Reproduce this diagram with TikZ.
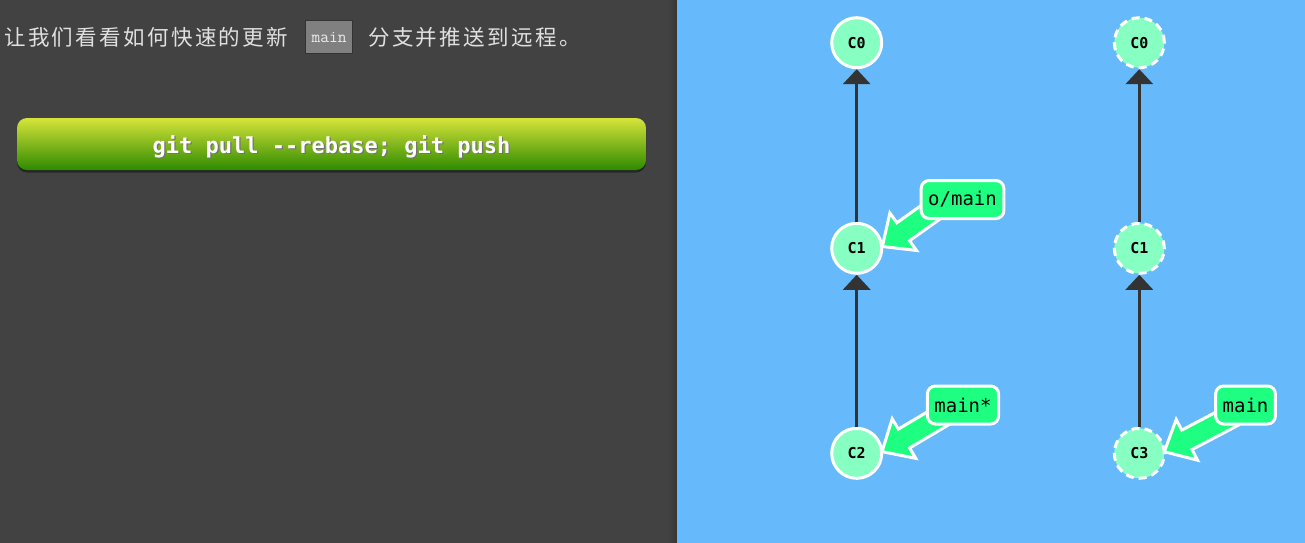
\documentclass[tikz,border=0pt]{standalone}
\usepackage{fontspec}
\setmonofont{DejaVu Sans Mono}
\newfontfamily\cjk[LetterSpace=11]{Noto Sans CJK SC}
\newfontfamily\codefont{Latin Modern Mono}
\usetikzlibrary{positioning,arrows.meta,calc,shapes.arrows,shadows}
\definecolor{PanelGray}{RGB}{66,66,66}
\definecolor{PanelEdge}{RGB}{52,52,52}
\definecolor{SkyBlue}{RGB}{102,185,250}
\definecolor{CommitMint}{RGB}{136,255,194}
\definecolor{BranchGreen}{RGB}{30,255,130}
\definecolor{ButtonTop}{RGB}{214,228,58}
\definecolor{ButtonBottom}{RGB}{46,138,0}
\definecolor{EdgeDark}{RGB}{51,51,51}
\pgfdeclarelayer{bg}
\pgfdeclarelayer{back}
\pgfsetlayers{back,bg,main}
\newcommand{\txtshadow}[1]{\raisebox{-3pt}[\height][\depth]{\rlap{\hspace{1.2pt}\raisebox{-1.2pt}{\color{black!55}#1}}#1}}

\begin{document}
\begin{tikzpicture}[x=1pt, y=-1pt, every node/.style={align=center}]
\tikzset{
  introtext/.style={inner sep=0pt, text=white!88!black, font=\fontsize{21.5}{24}\selectfont\cjk},
  codebox/.style={draw=EdgeDark, fill=white!50!black, line width=1pt, text=white!92!black,
    inner xsep=6pt, minimum height=33pt, font=\fontsize{17}{18}\selectfont\codefont},
  gitbutton/.style={rounded corners=10pt, top color=ButtonTop, bottom color=ButtonBottom,
    minimum width=629pt, minimum height=52pt, text=white, font=\fontsize{22}{26}\selectfont\ttfamily\bfseries,
    drop shadow={shadow xshift=0pt, shadow yshift=-2.5pt, opacity=1, fill=black!85}},
  commit/.style={circle, draw=white, line width=3pt, fill=CommitMint, minimum size=50pt, inner sep=0pt,
    font=\fontsize{15}{18}\selectfont\ttfamily\bfseries},
  ghost/.style={commit, dash pattern=on 8pt off 5pt},
  branch/.style={draw=white, line width=3pt, fill=BranchGreen, rounded corners=8pt, inner xsep=7pt,
    minimum height=38pt, font=\fontsize{19}{22}\selectfont\ttfamily},
  parentarr/.style={-{Triangle[width=27pt,length=15pt]}, line width=3.4pt, EdgeDark},
  fatarrow/.style={single arrow, draw=white, fill=BranchGreen, line width=3pt, inner xsep=0pt, inner ysep=3pt,
    text height=13pt, text depth=0pt, single arrow head extend=12pt, single arrow tip angle=84,
    minimum height=78pt, sloped, allow upside down, anchor=tip}
}
\useasboundingbox (0,0) rectangle (1305,542);
% panels
\begin{pgfonlayer}{back}
  \fill[PanelGray] (-1,-1) rectangle (677,543);
  \shade[left color=PanelGray, right color=PanelEdge] (668,-1) rectangle (677,543);
  \fill[SkyBlue] (677,-1) rectangle (1306,543);
\end{pgfonlayer}

% lesson text and command
\node[introtext, anchor=west] (introa) at (4,37) {让我们看看如何快速的更新};
\node[codebox, anchor=west] (code) at (305,37) {main};
\node[introtext, right=15pt of code] (introb) {分支并推送到远程。};
\node[gitbutton] (cmd) at (331.5,144) {\txtshadow{git pull --rebase; git push}};

% before
\node[commit] (c0) at (856.7,42.7) {C0};
\node[commit] (c1) at (856.7,248.3) {C1};
\node[commit] (c2) at (856.7,453.3) {C2};
\draw[parentarr] (c1) -- (c0);
\draw[parentarr] (c2) -- (c1);
\node[branch] (omain) at (962.5,199.5) {o/main};
\node[branch] (mainstar) at (963,405) {main*};

% after
\node[ghost] (r0) at (1139.3,42.7) {C0};
\node[ghost] (r1) at (1139.3,248.3) {C1};
\node[ghost] (c3) at (1139.3,453.3) {C3};
\draw[parentarr] (r1) -- (r0);
\draw[parentarr] (c3) -- (r1);
\node[branch] (main) at (1245.5,405) {main};

% branch pointers
\begin{pgfonlayer}{bg}
  \path (omain.south west) -- (c1.5) node[fatarrow, pos=1.07] {};
  \path (mainstar.south west) -- (c2.5) node[fatarrow, pos=1.07] {};
  \path (main.south west) -- (c3.5) node[fatarrow, pos=1.07] {};
\end{pgfonlayer}
\end{tikzpicture}
\end{document}
